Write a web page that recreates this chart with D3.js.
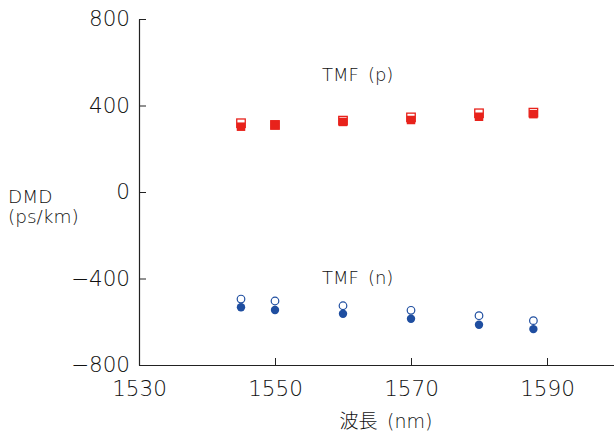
<!DOCTYPE html>
<html><head><meta charset="utf-8">
<script src="https://cdn.jsdelivr.net/npm/d3@7"></script>
<style>body{margin:0;background:#fff}</style></head>
<body><svg id="c" width="614" height="432"></svg>
<script>
const wavelengths = [1545, 1550, 1560, 1570, 1580, 1588];
const tmfPFilled = [302, 310, 324, 333, 348, 360];
const tmfPOpen   = [318, 310, 330, 345, 364, 367];
const tmfNOpen   = [-495, -504, -526, -547, -572, -595];
const tmfNFilled = [-533, -546, -563, -586, -614, -634];
const xTicks = [1530, 1550, 1570, 1590];
const yTicks = [800, 400, 0, -400, -800];

const svg = d3.select("#c");
const font = "'DejaVu Sans', 'Noto Sans CJK JP', sans-serif";
const x = d3.scaleLinear().domain([1530, 1600]).range([139, 615]);
const y = d3.scaleLinear().domain([-800, 800]).range([365, 19]);
const red = "#e8221b", blue = "#1f4ea0", ink = "#111";

// axes
const xa = svg.append("g").attr("transform", "translate(0,365)")
  .call(d3.axisBottom(x).tickValues(xTicks).tickSize(-7).tickSizeOuter(0).tickPadding(16).tickFormat(d3.format("d")));
const ya = svg.append("g").attr("transform", "translate(139,0)")
  .call(d3.axisLeft(y).tickValues(yTicks).tickSize(-7).tickSizeOuter(0).tickPadding(9)
    .tickFormat(d => d < 0 ? "\u2212" + Math.abs(d) : d));
[xa, ya].forEach(a => {
  a.select(".domain").attr("stroke", "#222").attr("stroke-width", 1.2);
  a.selectAll(".tick line").attr("stroke", "#222").attr("stroke-width", 1);
  a.selectAll("text").attr("font-family", font).attr("font-size", 21.5)
    .attr("font-weight", 200).attr("fill", ink);
});
xa.select(".tick line").remove();

// markers
const sq = 8.5;
const drawSquares = (vals, filled) => svg.append("g").selectAll("rect").data(vals).join("rect")
  .attr("x", (d, i) => x(wavelengths[i]) - sq / 2).attr("y", d => y(d) - sq / 2)
  .attr("width", sq).attr("height", sq)
  .attr("fill", filled ? red : "#fff").attr("stroke", red).attr("stroke-width", filled ? 0 : 1.3);
drawSquares(tmfPOpen, false);
drawSquares(tmfPFilled, true);
const drawCircles = (vals, filled) => svg.append("g").selectAll("circle").data(vals).join("circle")
  .attr("cx", (d, i) => x(wavelengths[i])).attr("cy", d => y(d)).attr("r", filled ? 4.2 : 3.8)
  .attr("fill", filled ? blue : "#fff").attr("stroke", blue).attr("stroke-width", filled ? 0 : 1.2);
drawCircles(tmfNOpen, false);
drawCircles(tmfNFilled, true);

// labels
const txt = (t, px, py, size, anchor) => svg.append("text").attr("x", px).attr("y", py)
  .attr("font-family", font).attr("font-size", size).attr("font-weight", 200).attr("fill", ink)
  .attr("text-anchor", anchor || "start").text(t);
txt("TMF\u2002(p)", 322, 81, 18);
txt("TMF\u2002(n)", 322, 284, 18);
txt("DMD", 8, 203, 18.5);
txt("(ps/km)", 8, 223, 18.5);
txt("波長\u2002(nm)", 386, 428, 19, "middle");
</script></body></html>
